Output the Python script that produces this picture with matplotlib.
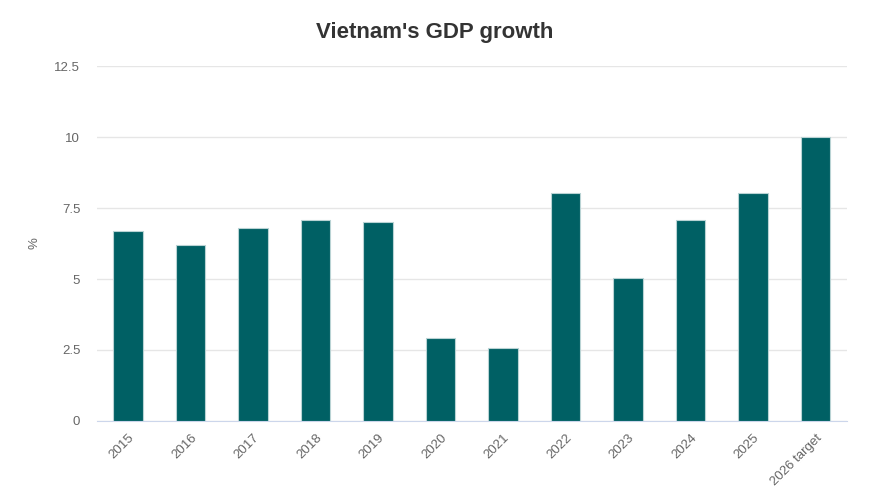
import matplotlib.pyplot as plt

plt.rcParams['font.family'] = ['Liberation Sans', 'DejaVu Sans']

years = ["2015", "2016", "2017", "2018", "2019", "2020", "2021", "2022",
         "2023", "2024", "2025", "2026 target"]
growth = [6.68, 6.21, 6.81, 7.08, 7.02, 2.91, 2.58, 8.02, 5.05, 7.09, 8.02, 10.0]
yticks = [0, 2.5, 5, 7.5, 10, 12.5]
ytick_labels = ["0", "2.5", "5", "7.5", "10", "12.5"]

fig = plt.figure(figsize=(8.73, 4.97), dpi=100)
ax = fig.add_axes([0.111, 0.153, 0.859, 0.714])

x = range(len(years))
ax.bar(x, growth, width=0.47, color="#006064", edgecolor="#b9d3d4", linewidth=0.8, zorder=3)

ax.set_xlim(-0.5, len(years) - 0.5)
ax.set_ylim(0, 12.5)
ax.set_yticks(yticks)
ax.set_yticklabels(ytick_labels)
ax.set_xticks(list(x))
ax.set_xticklabels(years, rotation=45, ha="right", rotation_mode="anchor")

ax.grid(axis="y", color="#e6e6e6", linewidth=1, zorder=0)
for side in ["top", "right", "left"]:
    ax.spines[side].set_visible(False)
ax.spines["bottom"].set_color("#ccd6eb")
ax.tick_params(axis="y", length=0, labelsize=9.5, labelcolor="#666666", pad=12)
ax.tick_params(axis="x", length=0, labelsize=9.5, labelcolor="#666666", pad=8)

# y-axis title placed by hand, like the original
fig.text(35 / 873, 1 - 243 / 497, "%", rotation=90, ha="center", va="center",
         color="#666666", fontsize=9.5)
fig.text(0.498, 0.935, "Vietnam's GDP growth", ha="center", va="center",
         fontsize=16, fontweight="bold", color="#333333")

fig.savefig("out.png", dpi=100, facecolor="white")
